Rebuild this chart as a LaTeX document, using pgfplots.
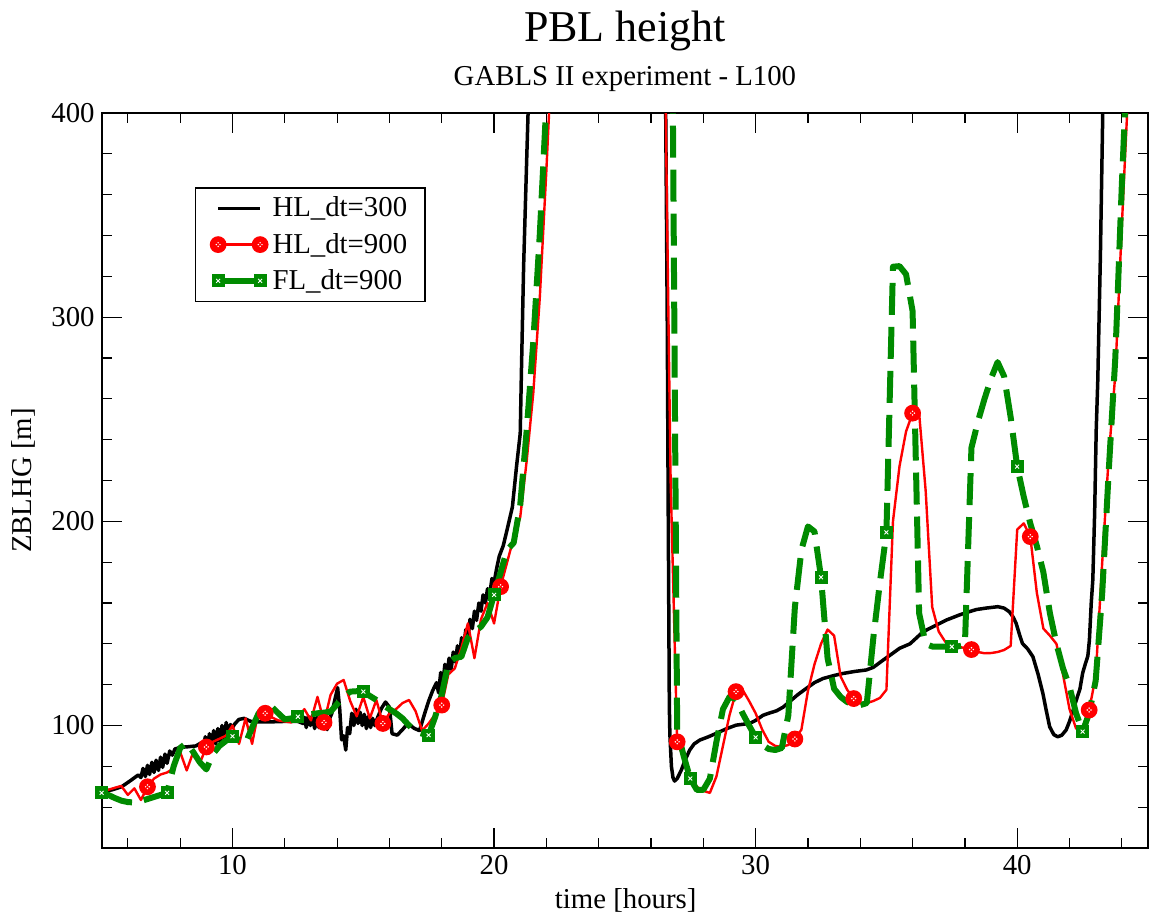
\documentclass[border=0pt]{standalone}
\usepackage{fontspec}
\setmainfont{Liberation Serif}
\usepackage{pgfplots}
\pgfplotsset{compat=1.18}
\definecolor{grn}{RGB}{0,139,0}

\pgfdeclareplotmark{rcirc}{%
  \pgfpathcircle{\pgfpointorigin}{\pgfplotmarksize}%
  \pgfusepathqfill
  \begin{pgfscope}%
  \pgfsetfillcolor{white}%
  \pgfpathcircle{\pgfpoint{-0.22\pgfplotmarksize}{0pt}}{0.1\pgfplotmarksize}%
  \pgfpathcircle{\pgfpoint{0.22\pgfplotmarksize}{0pt}}{0.1\pgfplotmarksize}%
  \pgfpathcircle{\pgfpoint{0pt}{0.22\pgfplotmarksize}}{0.1\pgfplotmarksize}%
  \pgfpathcircle{\pgfpoint{0pt}{-0.22\pgfplotmarksize}}{0.1\pgfplotmarksize}%
  \pgfusepathqfill
  \end{pgfscope}%
}
\pgfdeclareplotmark{gsq}{%
  \pgfpathrectangle{\pgfpoint{-\pgfplotmarksize}{-\pgfplotmarksize}}{\pgfpoint{2\pgfplotmarksize}{2\pgfplotmarksize}}%
  \pgfusepathqfill
  \begin{pgfscope}%
  \pgfsetstrokecolor{white}\pgfsetlinewidth{0.45pt}%
  \pgfpathmoveto{\pgfpoint{-0.3\pgfplotmarksize}{-0.3\pgfplotmarksize}}%
  \pgfpathlineto{\pgfpoint{0.3\pgfplotmarksize}{0.3\pgfplotmarksize}}%
  \pgfpathmoveto{\pgfpoint{-0.3\pgfplotmarksize}{0.3\pgfplotmarksize}}%
  \pgfpathlineto{\pgfpoint{0.3\pgfplotmarksize}{-0.3\pgfplotmarksize}}%
  \pgfusepathqstroke
  \end{pgfscope}%
}

\pgfplotsset{
  blkstyle/.style={black, line width=1.75pt, line join=round, no markers},
  redstyle/.style={red, line width=1.2pt, line join=round, mark=rcirc, mark size=4.2pt, mark options={solid, fill=red, draw=red}},
  grnstyle/.style={grn, line width=3pt, line join=round, dash pattern=on 16pt off 6pt, mark=gsq, mark size=3.25pt, mark options={solid, fill=grn, draw=grn}},
}

\begin{document}
\begin{tikzpicture}
\useasboundingbox (-50.85pt,-35pt) rectangle (523.65pt,424pt);
\begin{axis}[
  scale only axis, width=523.15pt, height=367.5pt,
  xmin=5, xmax=45, ymin=40, ymax=400,
  xtick={10,20,30,40}, ytick={100,200,300,400},
  minor xtick={6,8,...,44}, minor ytick={40,60,...,400},
  xtick pos=both, ytick pos=both,
  xticklabel pos=lower, yticklabel pos=left,
  tick align=inside, major tick length=10pt, minor tick length=5pt,
  major tick style={black, line width=0.6pt},
  minor tick style={black, line width=0.6pt},
  axis line style={black, line width=1pt},
  ticklabel style={font=\fontsize{14.4}{16}\selectfont},
  /pgf/number format/assume math mode=true,
  legend image code/.code={\draw[#1] plot coordinates {(0pt,0pt) (21pt,0pt)};},
  legend style={at={(0.0892,0.899)}, anchor=north west, draw=black, line width=0.7pt, fill=white,
    font=\fontsize{14.4}{16}\selectfont, inner xsep=7pt, inner ysep=2.5pt, row sep=2.6pt},
  legend cell align=left,
]
\addlegendimage{blkstyle}
\addlegendentry{HL\_dt=300}
\addlegendimage{redstyle}
\addlegendentry{HL\_dt=900}
\addlegendimage{grnstyle, solid}
\addlegendentry{FL\_dt=900}

% HL_dt=300
\addplot[blkstyle, forget plot] table {
x y
5.00 67.6
5.40 68.5
5.76 70
6.10 73
6.40 75.8
6.50 74.5
6.58 79
6.67 75
6.75 80.5
6.83 76
6.92 82
7.00 77
7.08 83
7.17 78
7.25 84.5
7.33 79.5
7.42 86
7.50 81.5
7.60 87.5
7.70 85.5
7.80 88.5
8.00 89.3
8.30 89.6
8.60 90
8.80 91.5
8.88 88.5
8.96 94.5
9.04 89
9.12 96
9.20 90
9.28 97.5
9.36 91
9.44 98.5
9.52 92
9.60 100
9.68 93
9.76 101.5
9.84 94.5
9.92 100.5
10.00 99
10.10 101
10.25 103
10.45 103.5
10.70 102
11.00 101.8
11.50 101.8
12.00 102
12.50 102
12.70 101
12.76 104
12.82 99
12.90 104.5
12.98 100
13.06 105
13.14 98.5
13.22 104
13.30 99
13.38 103.5
13.46 98.5
13.54 104
13.62 98
13.70 103
13.80 106
13.92 113
14.02 118.5
14.10 108
14.17 93
14.25 95
14.33 88
14.40 99
14.48 96
14.56 106
14.64 100
14.72 108
14.80 101
14.88 106.5
14.96 100
15.04 105.5
15.12 98.5
15.20 104.5
15.28 99
15.36 103.5
15.44 100
15.55 104
15.70 108.5
15.85 111.5
16.00 109
16.10 96
16.30 95.3
16.50 98
16.70 101
16.95 98.6
17.15 97.5
17.35 106
17.50 112
17.65 117
17.80 121
17.88 116
17.96 126
18.04 120
18.12 130
18.20 124.5
18.28 133
18.36 127.5
18.44 136
18.52 131
18.60 139
18.68 134.5
18.76 143
18.84 138.5
18.92 147
19.00 142.5
19.08 152
19.17 147.5
19.25 156
19.33 151.5
19.42 160
19.50 156
19.58 164
19.67 160
19.75 167
19.83 164
19.92 172
20.00 170
20.10 177
20.20 183
20.35 188
20.50 196
20.70 207
20.86 227
21.00 243
21.05 276
21.13 325
21.24 374
21.30 400
21.36 430
26.55 420
26.62 300
26.66 200
26.70 110
26.72 96
26.78 80
26.84 74.5
26.90 72.8
27.00 74
27.16 78.2
27.30 83
27.48 88
27.65 91
27.87 92.9
28.20 94.5
28.50 96.2
28.90 98.5
29.26 100.2
29.77 101
30.00 102.5
30.28 105
30.50 106
30.80 107.2
31.05 109
31.30 111.7
31.60 115
31.94 118.2
32.25 121
32.57 123
33.00 124.5
33.34 125.5
33.80 126.5
34.23 127.2
34.50 128.5
34.87 132
35.20 135
35.50 137.8
35.90 140
36.40 145.9
36.80 148.5
37.30 151.7
37.80 154.2
38.10 155.5
38.44 156.8
38.80 157.5
39.26 158.2
39.50 157.5
39.70 155.7
39.85 153
39.96 150
40.10 144
40.20 140.2
40.40 137.5
40.60 133.7
40.80 125
40.98 115.8
41.10 108
41.24 99.4
41.40 95.5
41.55 94.5
41.70 95.2
41.87 97.8
42.00 102
42.15 108
42.26 112.5
42.40 118
42.50 125.6
42.60 130
42.70 134
42.76 141.9
42.83 160
42.89 171.3
42.96 204
43.02 244.7
43.08 269
43.18 330
43.27 400
43.33 440
};

% HL_dt=900
\addplot[redstyle, mark repeat=9, mark phase=8, forget plot] table {
x y
5.00 67.5
5.25 68.5
5.50 69.5
5.75 70.4
6.00 66
6.25 69.2
6.50 63.5
6.75 70
7.00 74
7.25 76
7.50 77
7.75 79
8.00 87
8.25 78
8.50 87
8.75 81.5
9.00 89.5
9.25 92
9.50 93.5
9.75 95
10.00 100
10.25 91
10.50 103.5
10.75 91
11.00 107.5
11.25 106
11.50 104
11.75 102.5
12.00 102
12.25 101.5
12.50 104
12.75 108
13.00 102.5
13.25 114
13.50 101.5
13.75 115
14.00 120.5
14.25 122.3
14.50 112
14.75 104.5
15.00 114
15.25 103.5
15.50 112.5
15.75 101
16.00 106
16.25 108
16.50 111
16.75 112.5
17.00 107
17.25 97.5
17.50 101
17.75 105.5
18.00 110
18.25 125
18.50 128
18.75 138
19.00 150
19.25 133
19.50 152
19.75 160
20.00 150
20.25 168
20.50 180
20.75 192
21.00 202
21.25 230
21.50 263
21.75 310
22.00 372
22.25 440
22.50 600
22.75 800
23.00 1000
23.25 1000
23.50 1000
23.75 1000
24.00 1000
24.25 1000
24.50 1000
24.75 1000
25.00 1000
25.25 1000
25.50 1000
25.75 1000
26.00 1000
26.25 1000
26.50 460
26.75 220
27.00 92
27.25 84
27.50 76
27.75 70
28.00 68
28.25 67
28.50 75
28.75 90
29.00 105
29.25 116.6
29.50 117.5
29.75 112
30.00 106
30.25 98
30.50 92
30.75 90
31.00 89.5
31.25 90.5
31.50 93.4
31.75 98
32.00 117
32.25 130
32.50 140
32.75 147
33.00 144
33.25 124
33.50 117.5
33.75 113.2
34.00 111
34.25 111
34.50 112
34.75 113.5
35.00 117.5
35.25 200
35.50 227
35.75 244
36.00 253
36.25 253
36.50 215
36.75 158
37.00 146
37.25 141
37.50 139.5
37.75 138.5
38.00 138
38.25 137.2
38.50 136
38.75 135.4
39.00 135.5
39.25 136
39.50 137
39.75 139
40.00 196
40.25 199
40.50 192.5
40.75 165
41.00 147.5
41.25 144
41.50 140
41.75 125
42.00 108
42.25 98.5
42.50 98
42.75 107.6
43.00 124
43.25 180
43.50 232
43.75 272
44.00 345
44.25 413
44.50 500
44.75 600
45.00 700
};

% FL_dt=900
\addplot[grnstyle, mark repeat=10, mark phase=1, forget plot] table {
x y
5.00 67
5.25 66
5.50 64.5
5.75 63.2
6.00 62.5
6.25 62.3
6.50 63
6.75 64
7.00 65
7.25 66
7.50 67
7.75 80
8.00 89
8.25 91.5
8.50 87
8.75 82
9.00 78.5
9.25 86
9.50 90
9.75 92.5
10.00 94.7
10.25 93
10.50 91.3
10.75 99
11.00 106
11.25 108.5
11.50 109.2
11.75 106
12.00 103
12.25 103.5
12.50 104.3
12.75 105
13.00 105.5
13.25 106
13.50 106.3
13.75 106.8
14.00 110.5
14.25 114
14.50 116.6
14.75 116.8
15.00 116.6
15.25 114.5
15.50 112.5
15.75 110
16.00 108
16.25 106
16.50 103.5
16.75 100
17.00 97
17.25 96
17.50 95.3
17.75 104.3
18.00 115
18.25 130.5
18.50 133
18.75 133.7
19.00 143
19.25 146
19.50 148.4
19.75 153
20.00 164
20.25 175
20.50 186
20.75 189.5
21.00 208
21.25 245
21.50 288
21.75 341
22.00 405
22.25 470
22.50 600
22.75 800
23.00 1000
23.25 1000
23.50 1000
23.75 1000
24.00 1000
24.25 1000
24.50 1000
24.75 1000
25.00 1000
25.25 1000
25.50 1000
25.75 1000
26.00 1000
26.25 1000
26.50 1000
26.75 560
27.00 98
27.25 85
27.50 74
27.75 68.5
28.00 68.5
28.25 74
28.50 92
28.75 108
29.00 114
29.25 113
29.50 106
29.75 100
30.00 94.2
30.25 90.5
30.50 88.5
30.75 88
31.00 89
31.25 105
31.50 158
31.75 186
32.00 197.5
32.25 195
32.50 172.6
32.75 133
33.00 118
33.25 114
33.50 111.5
33.75 110.5
34.00 110
34.25 111
34.50 143
34.75 170
35.00 194.6
35.25 324.7
35.50 325
35.75 321
36.00 303
36.25 155
36.50 140
36.75 138.7
37.00 138.6
37.25 138.6
37.50 138.6
37.75 138.8
38.00 139.4
38.25 236
38.50 249
38.75 260
39.00 270
39.25 278
39.50 271
39.75 251
40.00 226.8
40.25 212
40.50 199
40.75 188
41.00 175
41.25 155
41.50 140
41.75 128
42.00 119
42.25 106
42.50 97
42.75 106
43.00 122
43.25 165
43.50 225
43.75 280
44.00 365
44.25 440
44.50 550
44.75 700
45.00 850
};
\end{axis}
\node[font=\fontsize{22}{26}\selectfont, anchor=base] at (261.6pt,403pt) {PBL height};
\node[font=\fontsize{14.4}{17}\selectfont, anchor=base] at (261.6pt,381.5pt) {GABLS II experiment - L100};
\node[font=\fontsize{14.4}{17}\selectfont, anchor=base] at (262pt,-30pt) {time [hours]};
\node[font=\fontsize{14.4}{17}\selectfont, anchor=base, rotate=90] at (-35.3pt,183.75pt) {ZBLHG [m]};
\end{tikzpicture}
\end{document}
